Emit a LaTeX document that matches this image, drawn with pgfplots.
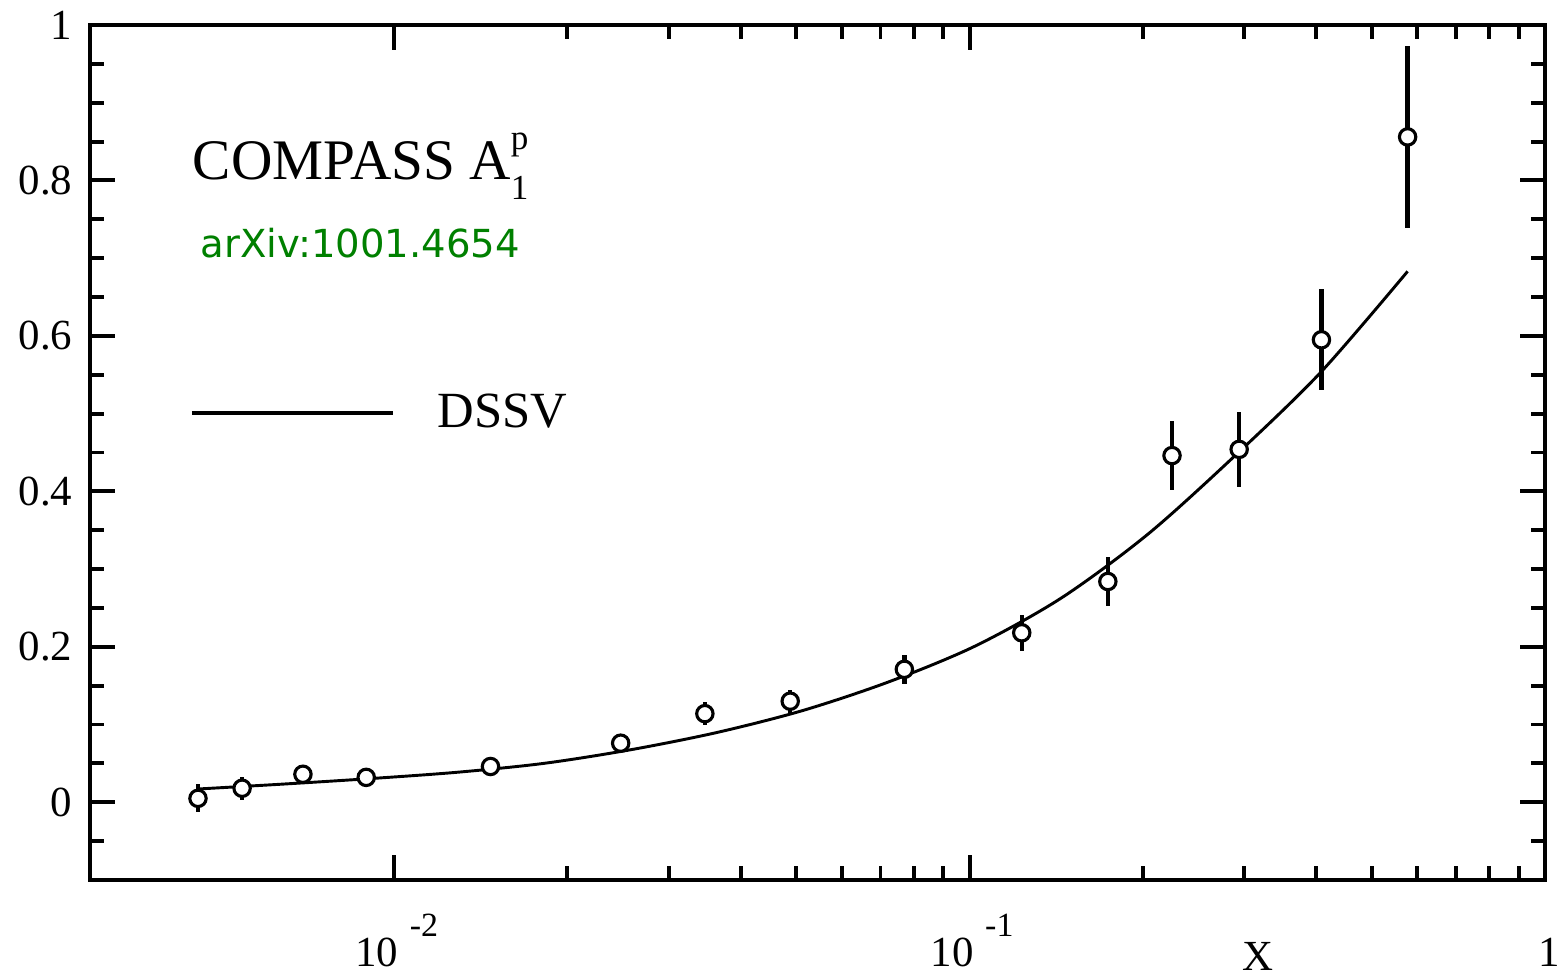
\documentclass[border=0pt]{standalone}
\usepackage{fontspec}
\setmainfont{Liberation Serif}
\newfontfamily\arxivfont{DejaVu Sans}
\usepackage{pgfplots}
\usepackage{pgfplotstable}
\pgfplotsset{compat=1.18}
\definecolor{arxivgreen}{RGB}{0,128,0}

\pgfplotstableread{
x y e
0.00456 0.005 0.018
0.00544 0.018 0.015
0.00694 0.036 0.006
0.00894 0.032 0.006
0.01470 0.046 0.006
0.02475 0.076 0.007
0.03467 0.114 0.015
0.04878 0.130 0.015
0.07703 0.171 0.019
0.12320 0.218 0.023
0.17390 0.284 0.031
0.22480 0.446 0.044
0.29410 0.454 0.048
0.40880 0.595 0.065
0.57710 0.856 0.117
}\datatable

\pgfplotstableread{
x y
0.004555 0.0170
0.00646 0.0235
0.00912 0.0305
0.01288 0.0386
0.01820 0.0500
0.02570 0.0674
0.03631 0.0896
0.05129 0.1180
0.07244 0.1550
0.1023 0.2010
0.1445 0.2630
0.2042 0.3450
0.2884 0.4450
0.4074 0.5530
0.5771 0.6830
}\curvetable

\newcommand{\tenpow}[1]{\llap{10}\rlap{\hspace{3pt}\raisebox{7.9pt}{\fontsize{8.7}{8.7}\selectfont #1}}}

\begin{document}
\begin{tikzpicture}
\begin{axis}[
  name=ax,
  scale only axis,
  width=373.08pt, height=219.23pt,
  xmode=log, xmin=0.00296, xmax=1,
  ymin=-0.1, ymax=1,
  axis line style={line width=1.1pt},
  tick style={line width=1pt, black},
  major tick length=6.3pt, minor tick length=3.5pt,
  tick align=inside,
  xtick={0.01,0.1,1},
  xticklabels={{\tenpow{-2}},{\tenpow{-1}},{1}},
  ytick={0,0.2,0.4,0.6,0.8,1},
  yticklabels={0,0.2,0.4,0.6,0.8,1},
  minor ytick={-0.05,0.05,0.1,0.15,0.25,0.3,0.35,0.45,0.5,0.55,0.65,0.7,0.75,0.85,0.9,0.95},
  ticklabel style={font=\fontsize{11}{11}\selectfont},
  xticklabel style={anchor=base, yshift=-22.3pt, xshift=1pt},
  yticklabel style={xshift=-1pt},
  xlabel={X},
  xlabel style={at={(rel axis cs:0.8027,0)}, anchor=base, yshift=-23.2pt, font=\fontsize{11}{11}\selectfont, inner sep=0pt},
  clip=false,
]
\addplot[only marks, mark=*, mark size=2.1pt,
  mark options={fill=white, draw=black, line width=0.8pt},
  error bars/.cd, y dir=both, y explicit,
  error bar style={line width=1.15pt, black}, error mark=none]
  table[x=x, y=y, y error=e]{\datatable};
\addplot[black, line width=0.75pt, smooth, tension=0.5, no marks] table[x=x, y=y]{\curvetable};

\node[anchor=base west, inner sep=0pt, font=\fontsize{14.7}{14.7}\selectfont]
  at (rel axis cs:0.0701,0.8187)
  {COMPASS A\rlap{\raisebox{7.7pt}{\fontsize{9}{9}\selectfont p}}\raisebox{-4.9pt}{\fontsize{9}{9}\selectfont 1}};
\node[anchor=base west, inner sep=0pt, text=arxivgreen, font=\arxivfont\fontsize{9.9}{9.9}\selectfont]
  at (rel axis cs:0.0756,0.7275) {arXiv:1001.4654};
\draw[black, line width=1.2pt] (rel axis cs:0.0701,0.5462) -- (rel axis cs:0.2082,0.5462);
\node[anchor=base west, inner sep=0pt, font=\fontsize{13}{13}\selectfont]
  at (rel axis cs:0.2385,0.5287) {DSSV};
\end{axis}
\pgfresetboundingbox
\path[use as bounding box] ([xshift=-23.08pt,yshift=-25.38pt]ax.south west) rectangle ([xshift=3.59pt,yshift=6.41pt]ax.north east);
\end{tikzpicture}
\end{document}
